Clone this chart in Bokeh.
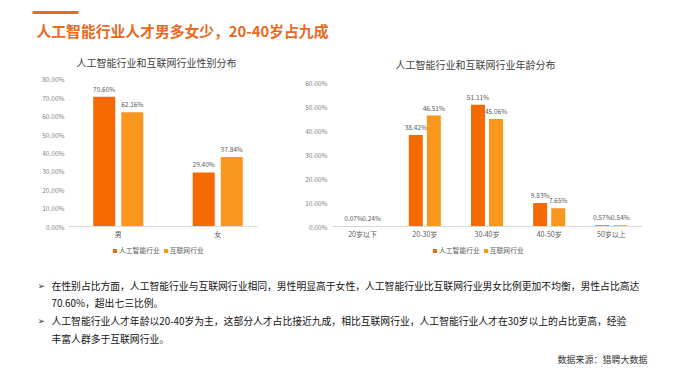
from bokeh.plotting import figure
from bokeh.models import (Range1d, FixedTicker, PrintfTickFormatter, Legend,
                          LegendItem, ColumnDataSource)
from bokeh.layouts import column, row
from bokeh.core.properties import value
from bokeh.embed import file_html
from bokeh.resources import INLINE

# ---------------- data ----------------
series_names = ["人工智能行业", "互联网行业"]

gender_cats = ["男", "女"]
gender_ai = [70.60, 29.40]
gender_net = [62.16, 37.84]
gender_ticks = [0, 10, 20, 30, 40, 50, 60, 70, 80]

age_cats = ["20岁以下", "20-30岁", "30-40岁", "40-50岁", "50岁以上"]
age_ai = [0.07, 38.42, 51.11, 9.83, 0.57]
age_net = [0.24, 46.51, 45.06, 7.65, 0.54]
age_ticks = [0, 10, 20, 30, 40, 50, 60]

main_title = "人工智能行业人才男多女少，20-40岁占九成"
gender_title = "人工智能行业和互联网行业性别分布"
age_title = "人工智能行业和互联网行业年龄分布"
notes = [
    "在性别占比方面，人工智能行业与互联网行业相同，男性明显高于女性，人工智能行业比互联网行业男女比例更加不均衡，男性占比高达",
    "70.60%，超出七三比例。",
    "人工智能行业人才年龄以20-40岁为主，这部分人才占比接近九成，相比互联网行业，人工智能行业人才在30岁以上的占比更高，经验",
    "丰富人群多于互联网行业。",
]
source_text = "数据来源：猎聘大数据"

# ---------------- style ----------------
FONT = "Noto Sans CJK SC"
C_AI = "#F46A00"
C_NET = "#F8961E"
ORANGE = "#E9691E"
ROW_H = 197
STRIP_H = 15
NAN = float("nan")


def bar_chart(cats, ai, net, ticks, y_end, x_end, width, bl, br,
              bar_w, off, title, title_offset, title_standoff):
    idx = list(range(len(cats)))
    src = ColumnDataSource(dict(
        x_ai=[i - off for i in idx], x_net=[i + off for i in idx],
        ai=ai, net=net,
        ai_lbl=[f"{v:.2f}%" for v in ai], net_lbl=[f"{v:.2f}%" for v in net]))
    p = figure(output_backend="svg", toolbar_location=None,
               width=width, height=ROW_H,
               x_range=Range1d(-0.5, x_end), y_range=Range1d(0, y_end),
               min_border_left=bl, min_border_right=br,
               min_border_top=33, min_border_bottom=14, title=title)
    p.outline_line_color = None
    p.xgrid.visible = False
    p.ygrid.visible = False
    p.title.align = "left"
    p.title.offset = title_offset
    p.title.standoff = title_standoff
    p.title.text_font = FONT
    p.title.text_font_size = "10px"
    p.title.text_font_style = "normal"
    p.title.text_color = "#404040"

    p.vbar(x="x_ai", top="ai", width=bar_w, source=src,
           fill_color=C_AI, line_color=None)
    p.vbar(x="x_net", top="net", width=bar_w, source=src,
           fill_color=C_NET, line_color=None)
    for xc, yc, tc in (("x_ai", "ai", "ai_lbl"), ("x_net", "net", "net_lbl")):
        p.text(x=xc, y=yc, text=tc, source=src, text_align="center",
               text_baseline="bottom", y_offset=-3,
               text_font=value(FONT), text_font_size="6.5px",
               text_color="#595959")

    ya = p.yaxis[0]
    ya.ticker = FixedTicker(ticks=ticks)
    ya.formatter = PrintfTickFormatter(format="%.2f%%")
    ya.axis_line_color = None
    ya.major_tick_line_color = None
    ya.minor_tick_line_color = None
    ya.major_tick_out = 0
    ya.major_tick_in = 0
    ya.minor_tick_out = 0
    ya.major_label_text_font = FONT
    ya.major_label_text_font_size = "6.5px"
    ya.major_label_text_color = "#7f7f7f"
    ya.major_label_standoff = 4

    xa = p.xaxis[0]
    xa.ticker = FixedTicker(ticks=idx)
    xa.major_label_overrides = {i: c for i, c in zip(idx, cats)}
    xa.axis_line_color = "#d9d9d9"
    xa.major_tick_line_color = None
    xa.minor_tick_line_color = None
    xa.major_tick_out = 0
    xa.major_tick_in = 0
    xa.minor_tick_out = 0
    xa.major_label_text_font = FONT
    xa.major_label_text_font_size = "7px"
    xa.major_label_text_color = "#595959"
    xa.major_label_standoff = 2
    return p


def legend_strip(width, lx):
    s = figure(output_backend="svg", toolbar_location=None, width=width,
               height=STRIP_H, x_range=Range1d(0, 1), y_range=Range1d(0, 1),
               x_axis_type=None, y_axis_type=None, min_border=0)
    s.outline_line_color = None
    s.grid.visible = False
    # legend-only renderers (no drawable coordinates)
    r1 = s.vbar(x=[NAN], top=[NAN], width=0.1, fill_color=C_AI, line_color=None)
    r2 = s.vbar(x=[NAN], top=[NAN], width=0.1, fill_color=C_NET, line_color=None)
    legend = Legend(items=[LegendItem(label=series_names[0], renderers=[r1]),
                           LegendItem(label=series_names[1], renderers=[r2])],
                    orientation="horizontal", location=(lx, 1),
                    label_text_font=FONT, label_text_font_size="6.8px",
                    label_text_color="#595959", glyph_width=5, glyph_height=5,
                    label_height=8, label_standoff=2, spacing=3, padding=1,
                    margin=0, border_line_color=None,
                    background_fill_alpha=0)
    s.add_layout(legend)
    return s


left = bar_chart(gender_cats, gender_ai, gender_net, gender_ticks, 81, 1.4,
                 280, 68, 23, 0.221, 0.141, gender_title, 8, 15)
right = bar_chart(age_cats, age_ai, age_net, age_ticks, 62.5, 4.5,
                  404, 51, 42, 0.225, 0.145, age_title, 64, 11)
left_leg = legend_strip(280, 112)
right_leg = legend_strip(404, 152)

# ---------------- header ----------------
head = figure(output_backend="svg", toolbar_location=None, width=684, height=44,
              x_range=Range1d(0, 684), y_range=Range1d(44, 0),
              x_axis_type=None, y_axis_type=None, min_border=0)
head.outline_line_color = None
head.grid.visible = False
head.segment(x0=[32], y0=[12], x1=[78], y1=[12], line_color=ORANGE, line_width=3)
head.text(x=[36], y=[30], text=[main_title], text_baseline="middle",
          text_font=value(FONT), text_font_size="14.8px",
          text_font_style="bold", text_color=ORANGE)

# ---------------- footer ----------------
foot = figure(output_backend="svg", toolbar_location=None, width=684, height=109,
              x_range=Range1d(0, 684), y_range=Range1d(365, 256),
              x_axis_type=None, y_axis_type=None, min_border=0)
foot.outline_line_color = None
foot.grid.visible = False
foot.text(x=[37, 37], y=[285, 320], text=["➢", "➢"], text_baseline="middle",
          text_font=value("DejaVu Sans"), text_font_size="9px", text_color="#333333")
foot.text(x=[51, 51, 51, 51], y=[285, 302, 320, 338], text=notes,
          text_baseline="middle", text_font=value(FONT),
          text_font_size="9.8px", text_color="#111111")
foot.text(x=[557], y=[359], text=[source_text], text_baseline="middle",
          text_font=value(FONT), text_font_size="9px", text_color="#333333")

layout = column(head, row(left, right), row(left_leg, right_leg), foot)
open("out.html", "w").write(file_html(layout, INLINE))
